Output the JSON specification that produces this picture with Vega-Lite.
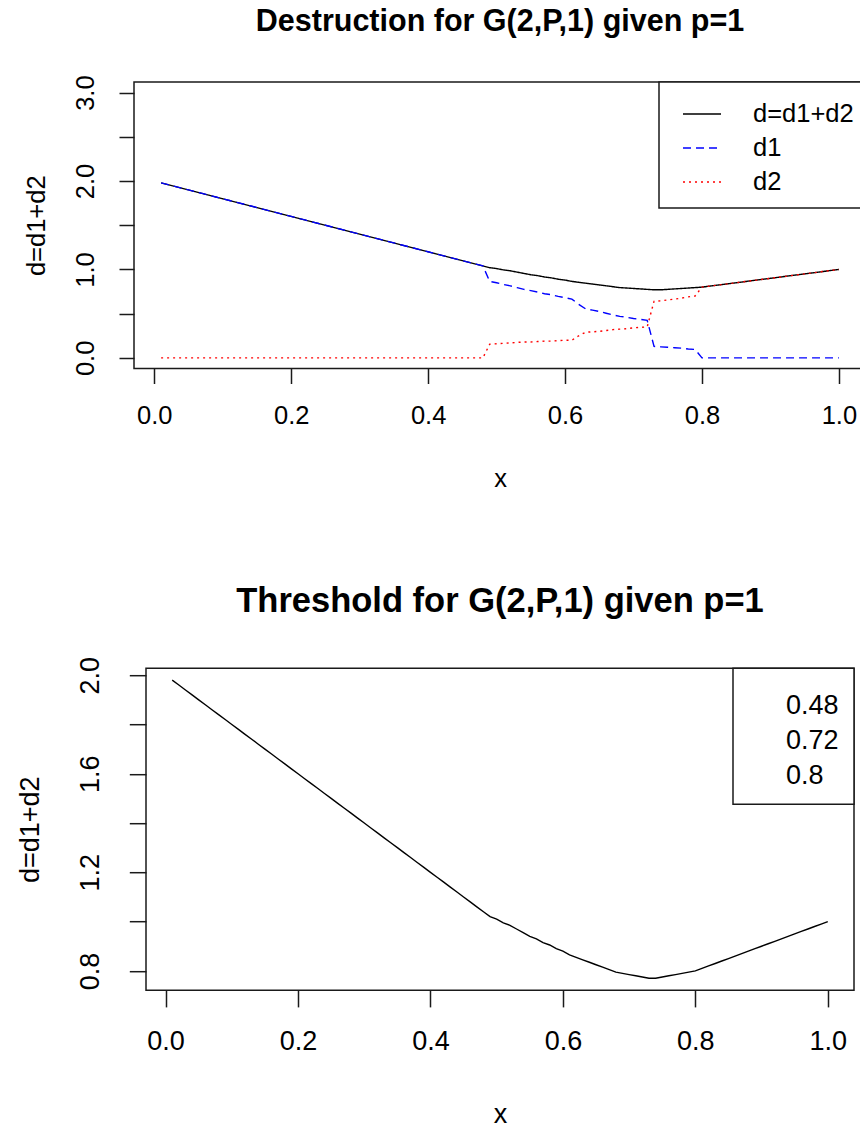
{
  "$schema": "https://vega.github.io/schema/vega-lite/v6.json",
  "padding": {"left": 15, "top": 6, "right": 0, "bottom": 0},
  "background": "white",
  "config": {
    "font": "Liberation Sans",
    "view": {"stroke": "#1a1a1a", "strokeWidth": 1.5},
    "axis": {"grid": false, "domain": false, "tickColor": "#1a1a1a", "tickWidth": 1.5, "labelColor": "black", "titleColor": "black", "titleFontWeight": "normal", "labelOverlap": false, "labelFlush": false},
    "title": {"color": "black", "fontWeight": "bold", "anchor": "middle", "frame": "group", "baseline": "alphabetic"},
    "legend": {"strokeColor": "#1a1a1a", "fillColor": "white", "cornerRadius": 0, "labelColor": "black", "strokeWidth": 1.5}
  },
  "resolve": {"scale": {"color": "independent", "strokeDash": "independent", "x": "independent", "y": "independent"}, "legend": {"color": "independent", "strokeDash": "independent"}},
  "datasets": {
    "dest": [
      {"x":0.01,"s":"d=d1+d2","v":1.98},{"x":0.02,"s":"d=d1+d2","v":1.96},{"x":0.03,"s":"d=d1+d2","v":1.94},{"x":0.04,"s":"d=d1+d2","v":1.92},{"x":0.05,"s":"d=d1+d2","v":1.9},{"x":0.06,"s":"d=d1+d2","v":1.88},{"x":0.07,"s":"d=d1+d2","v":1.86},{"x":0.08,"s":"d=d1+d2","v":1.84},{"x":0.09,"s":"d=d1+d2","v":1.82},{"x":0.1,"s":"d=d1+d2","v":1.8},
      {"x":0.11,"s":"d=d1+d2","v":1.78},{"x":0.12,"s":"d=d1+d2","v":1.76},{"x":0.13,"s":"d=d1+d2","v":1.74},{"x":0.14,"s":"d=d1+d2","v":1.72},{"x":0.15,"s":"d=d1+d2","v":1.7},{"x":0.16,"s":"d=d1+d2","v":1.68},{"x":0.17,"s":"d=d1+d2","v":1.66},{"x":0.18,"s":"d=d1+d2","v":1.64},{"x":0.19,"s":"d=d1+d2","v":1.62},{"x":0.2,"s":"d=d1+d2","v":1.6},
      {"x":0.21,"s":"d=d1+d2","v":1.58},{"x":0.22,"s":"d=d1+d2","v":1.56},{"x":0.23,"s":"d=d1+d2","v":1.54},{"x":0.24,"s":"d=d1+d2","v":1.52},{"x":0.25,"s":"d=d1+d2","v":1.5},{"x":0.26,"s":"d=d1+d2","v":1.48},{"x":0.27,"s":"d=d1+d2","v":1.46},{"x":0.28,"s":"d=d1+d2","v":1.44},{"x":0.29,"s":"d=d1+d2","v":1.42},{"x":0.3,"s":"d=d1+d2","v":1.4},
      {"x":0.31,"s":"d=d1+d2","v":1.38},{"x":0.32,"s":"d=d1+d2","v":1.36},{"x":0.33,"s":"d=d1+d2","v":1.34},{"x":0.34,"s":"d=d1+d2","v":1.32},{"x":0.35,"s":"d=d1+d2","v":1.3},{"x":0.36,"s":"d=d1+d2","v":1.28},{"x":0.37,"s":"d=d1+d2","v":1.26},{"x":0.38,"s":"d=d1+d2","v":1.24},{"x":0.39,"s":"d=d1+d2","v":1.22},{"x":0.4,"s":"d=d1+d2","v":1.2},
      {"x":0.41,"s":"d=d1+d2","v":1.18},{"x":0.42,"s":"d=d1+d2","v":1.16},{"x":0.43,"s":"d=d1+d2","v":1.14},{"x":0.44,"s":"d=d1+d2","v":1.12},{"x":0.45,"s":"d=d1+d2","v":1.1},{"x":0.46,"s":"d=d1+d2","v":1.08},{"x":0.47,"s":"d=d1+d2","v":1.06},{"x":0.48,"s":"d=d1+d2","v":1.04},{"x":0.49,"s":"d=d1+d2","v":1.02},{"x":0.5,"s":"d=d1+d2","v":1.01},
      {"x":0.51,"s":"d=d1+d2","v":0.995},{"x":0.52,"s":"d=d1+d2","v":0.985},{"x":0.53,"s":"d=d1+d2","v":0.97},{"x":0.54,"s":"d=d1+d2","v":0.955},{"x":0.55,"s":"d=d1+d2","v":0.94},{"x":0.56,"s":"d=d1+d2","v":0.93},{"x":0.57,"s":"d=d1+d2","v":0.915},{"x":0.58,"s":"d=d1+d2","v":0.905},{"x":0.59,"s":"d=d1+d2","v":0.89},{"x":0.6,"s":"d=d1+d2","v":0.88},
      {"x":0.61,"s":"d=d1+d2","v":0.865},{"x":0.62,"s":"d=d1+d2","v":0.855},{"x":0.63,"s":"d=d1+d2","v":0.845},{"x":0.64,"s":"d=d1+d2","v":0.835},{"x":0.65,"s":"d=d1+d2","v":0.825},{"x":0.66,"s":"d=d1+d2","v":0.815},{"x":0.67,"s":"d=d1+d2","v":0.805},{"x":0.68,"s":"d=d1+d2","v":0.795},{"x":0.69,"s":"d=d1+d2","v":0.79},{"x":0.7,"s":"d=d1+d2","v":0.785},
      {"x":0.71,"s":"d=d1+d2","v":0.78},{"x":0.72,"s":"d=d1+d2","v":0.775},{"x":0.73,"s":"d=d1+d2","v":0.77},{"x":0.74,"s":"d=d1+d2","v":0.77},{"x":0.75,"s":"d=d1+d2","v":0.775},{"x":0.76,"s":"d=d1+d2","v":0.78},{"x":0.77,"s":"d=d1+d2","v":0.785},{"x":0.78,"s":"d=d1+d2","v":0.79},{"x":0.79,"s":"d=d1+d2","v":0.795},{"x":0.8,"s":"d=d1+d2","v":0.8},
      {"x":0.81,"s":"d=d1+d2","v":0.81},{"x":0.82,"s":"d=d1+d2","v":0.82},{"x":0.83,"s":"d=d1+d2","v":0.83},{"x":0.84,"s":"d=d1+d2","v":0.84},{"x":0.85,"s":"d=d1+d2","v":0.85},{"x":0.86,"s":"d=d1+d2","v":0.86},{"x":0.87,"s":"d=d1+d2","v":0.87},{"x":0.88,"s":"d=d1+d2","v":0.88},{"x":0.89,"s":"d=d1+d2","v":0.89},{"x":0.9,"s":"d=d1+d2","v":0.9},
      {"x":0.91,"s":"d=d1+d2","v":0.91},{"x":0.92,"s":"d=d1+d2","v":0.92},{"x":0.93,"s":"d=d1+d2","v":0.93},{"x":0.94,"s":"d=d1+d2","v":0.94},{"x":0.95,"s":"d=d1+d2","v":0.95},{"x":0.96,"s":"d=d1+d2","v":0.96},{"x":0.97,"s":"d=d1+d2","v":0.97},{"x":0.98,"s":"d=d1+d2","v":0.98},{"x":0.99,"s":"d=d1+d2","v":0.99},{"x":1.0,"s":"d=d1+d2","v":1.0},

      {"x":0.01,"s":"d1","v":1.98},{"x":0.02,"s":"d1","v":1.96},{"x":0.03,"s":"d1","v":1.94},{"x":0.04,"s":"d1","v":1.92},{"x":0.05,"s":"d1","v":1.9},{"x":0.06,"s":"d1","v":1.88},{"x":0.07,"s":"d1","v":1.86},{"x":0.08,"s":"d1","v":1.84},{"x":0.09,"s":"d1","v":1.82},{"x":0.1,"s":"d1","v":1.8},
      {"x":0.11,"s":"d1","v":1.78},{"x":0.12,"s":"d1","v":1.76},{"x":0.13,"s":"d1","v":1.74},{"x":0.14,"s":"d1","v":1.72},{"x":0.15,"s":"d1","v":1.7},{"x":0.16,"s":"d1","v":1.68},{"x":0.17,"s":"d1","v":1.66},{"x":0.18,"s":"d1","v":1.64},{"x":0.19,"s":"d1","v":1.62},{"x":0.2,"s":"d1","v":1.6},
      {"x":0.21,"s":"d1","v":1.58},{"x":0.22,"s":"d1","v":1.56},{"x":0.23,"s":"d1","v":1.54},{"x":0.24,"s":"d1","v":1.52},{"x":0.25,"s":"d1","v":1.5},{"x":0.26,"s":"d1","v":1.48},{"x":0.27,"s":"d1","v":1.46},{"x":0.28,"s":"d1","v":1.44},{"x":0.29,"s":"d1","v":1.42},{"x":0.3,"s":"d1","v":1.4},
      {"x":0.31,"s":"d1","v":1.38},{"x":0.32,"s":"d1","v":1.36},{"x":0.33,"s":"d1","v":1.34},{"x":0.34,"s":"d1","v":1.32},{"x":0.35,"s":"d1","v":1.3},{"x":0.36,"s":"d1","v":1.28},{"x":0.37,"s":"d1","v":1.26},{"x":0.38,"s":"d1","v":1.24},{"x":0.39,"s":"d1","v":1.22},{"x":0.4,"s":"d1","v":1.2},
      {"x":0.41,"s":"d1","v":1.18},{"x":0.42,"s":"d1","v":1.16},{"x":0.43,"s":"d1","v":1.14},{"x":0.44,"s":"d1","v":1.12},{"x":0.45,"s":"d1","v":1.1},{"x":0.46,"s":"d1","v":1.08},{"x":0.47,"s":"d1","v":1.06},{"x":0.48,"s":"d1","v":1.04},{"x":0.49,"s":"d1","v":0.865},{"x":0.5,"s":"d1","v":0.85},
      {"x":0.51,"s":"d1","v":0.83},{"x":0.52,"s":"d1","v":0.815},{"x":0.53,"s":"d1","v":0.795},{"x":0.54,"s":"d1","v":0.775},{"x":0.55,"s":"d1","v":0.76},{"x":0.56,"s":"d1","v":0.745},{"x":0.57,"s":"d1","v":0.725},{"x":0.58,"s":"d1","v":0.715},{"x":0.59,"s":"d1","v":0.695},{"x":0.6,"s":"d1","v":0.68},
      {"x":0.61,"s":"d1","v":0.665},{"x":0.62,"s":"d1","v":0.605},{"x":0.63,"s":"d1","v":0.555},{"x":0.64,"s":"d1","v":0.54},{"x":0.65,"s":"d1","v":0.525},{"x":0.66,"s":"d1","v":0.505},{"x":0.67,"s":"d1","v":0.485},{"x":0.68,"s":"d1","v":0.47},{"x":0.69,"s":"d1","v":0.46},{"x":0.7,"s":"d1","v":0.445},
      {"x":0.71,"s":"d1","v":0.435},{"x":0.72,"s":"d1","v":0.425},{"x":0.73,"s":"d1","v":0.13},{"x":0.74,"s":"d1","v":0.125},{"x":0.75,"s":"d1","v":0.12},{"x":0.76,"s":"d1","v":0.115},{"x":0.77,"s":"d1","v":0.11},{"x":0.78,"s":"d1","v":0.1},{"x":0.79,"s":"d1","v":0.095},{"x":0.8,"s":"d1","v":0},
      {"x":0.81,"s":"d1","v":0},{"x":0.82,"s":"d1","v":0},{"x":0.83,"s":"d1","v":0},{"x":0.84,"s":"d1","v":0},{"x":0.85,"s":"d1","v":0},{"x":0.86,"s":"d1","v":0},{"x":0.87,"s":"d1","v":0},{"x":0.88,"s":"d1","v":0},{"x":0.89,"s":"d1","v":0},{"x":0.9,"s":"d1","v":0},
      {"x":0.91,"s":"d1","v":0},{"x":0.92,"s":"d1","v":0},{"x":0.93,"s":"d1","v":0},{"x":0.94,"s":"d1","v":0},{"x":0.95,"s":"d1","v":0},{"x":0.96,"s":"d1","v":0},{"x":0.97,"s":"d1","v":0},{"x":0.98,"s":"d1","v":0},{"x":0.99,"s":"d1","v":0},{"x":1.0,"s":"d1","v":0},

      {"x":0.01,"s":"d2","v":0},{"x":0.02,"s":"d2","v":0},{"x":0.03,"s":"d2","v":0},{"x":0.04,"s":"d2","v":0},{"x":0.05,"s":"d2","v":0},{"x":0.06,"s":"d2","v":0},{"x":0.07,"s":"d2","v":0},{"x":0.08,"s":"d2","v":0},{"x":0.09,"s":"d2","v":0},{"x":0.1,"s":"d2","v":0},
      {"x":0.11,"s":"d2","v":0},{"x":0.12,"s":"d2","v":0},{"x":0.13,"s":"d2","v":0},{"x":0.14,"s":"d2","v":0},{"x":0.15,"s":"d2","v":0},{"x":0.16,"s":"d2","v":0},{"x":0.17,"s":"d2","v":0},{"x":0.18,"s":"d2","v":0},{"x":0.19,"s":"d2","v":0},{"x":0.2,"s":"d2","v":0},
      {"x":0.21,"s":"d2","v":0},{"x":0.22,"s":"d2","v":0},{"x":0.23,"s":"d2","v":0},{"x":0.24,"s":"d2","v":0},{"x":0.25,"s":"d2","v":0},{"x":0.26,"s":"d2","v":0},{"x":0.27,"s":"d2","v":0},{"x":0.28,"s":"d2","v":0},{"x":0.29,"s":"d2","v":0},{"x":0.3,"s":"d2","v":0},
      {"x":0.31,"s":"d2","v":0},{"x":0.32,"s":"d2","v":0},{"x":0.33,"s":"d2","v":0},{"x":0.34,"s":"d2","v":0},{"x":0.35,"s":"d2","v":0},{"x":0.36,"s":"d2","v":0},{"x":0.37,"s":"d2","v":0},{"x":0.38,"s":"d2","v":0},{"x":0.39,"s":"d2","v":0},{"x":0.4,"s":"d2","v":0},
      {"x":0.41,"s":"d2","v":0},{"x":0.42,"s":"d2","v":0},{"x":0.43,"s":"d2","v":0},{"x":0.44,"s":"d2","v":0},{"x":0.45,"s":"d2","v":0},{"x":0.46,"s":"d2","v":0},{"x":0.47,"s":"d2","v":0},{"x":0.48,"s":"d2","v":0},{"x":0.49,"s":"d2","v":0.155},{"x":0.5,"s":"d2","v":0.16},
      {"x":0.51,"s":"d2","v":0.165},{"x":0.52,"s":"d2","v":0.17},{"x":0.53,"s":"d2","v":0.175},{"x":0.54,"s":"d2","v":0.18},{"x":0.55,"s":"d2","v":0.18},{"x":0.56,"s":"d2","v":0.185},{"x":0.57,"s":"d2","v":0.19},{"x":0.58,"s":"d2","v":0.19},{"x":0.59,"s":"d2","v":0.195},{"x":0.6,"s":"d2","v":0.2},
      {"x":0.61,"s":"d2","v":0.2},{"x":0.62,"s":"d2","v":0.25},{"x":0.63,"s":"d2","v":0.29},{"x":0.64,"s":"d2","v":0.295},{"x":0.65,"s":"d2","v":0.3},{"x":0.66,"s":"d2","v":0.31},{"x":0.67,"s":"d2","v":0.32},{"x":0.68,"s":"d2","v":0.325},{"x":0.69,"s":"d2","v":0.33},{"x":0.7,"s":"d2","v":0.34},
      {"x":0.71,"s":"d2","v":0.345},{"x":0.72,"s":"d2","v":0.35},{"x":0.73,"s":"d2","v":0.64},{"x":0.74,"s":"d2","v":0.645},{"x":0.75,"s":"d2","v":0.655},{"x":0.76,"s":"d2","v":0.665},{"x":0.77,"s":"d2","v":0.675},{"x":0.78,"s":"d2","v":0.69},{"x":0.79,"s":"d2","v":0.7},{"x":0.8,"s":"d2","v":0.8},
      {"x":0.81,"s":"d2","v":0.81},{"x":0.82,"s":"d2","v":0.82},{"x":0.83,"s":"d2","v":0.83},{"x":0.84,"s":"d2","v":0.84},{"x":0.85,"s":"d2","v":0.85},{"x":0.86,"s":"d2","v":0.86},{"x":0.87,"s":"d2","v":0.87},{"x":0.88,"s":"d2","v":0.88},{"x":0.89,"s":"d2","v":0.89},{"x":0.9,"s":"d2","v":0.9},
      {"x":0.91,"s":"d2","v":0.91},{"x":0.92,"s":"d2","v":0.92},{"x":0.93,"s":"d2","v":0.93},{"x":0.94,"s":"d2","v":0.94},{"x":0.95,"s":"d2","v":0.95},{"x":0.96,"s":"d2","v":0.96},{"x":0.97,"s":"d2","v":0.97},{"x":0.98,"s":"d2","v":0.98},{"x":0.99,"s":"d2","v":0.99},{"x":1.0,"s":"d2","v":1.0}
    ],
    "thr": [{"t": "0.48"}, {"t": "0.72"}, {"t": "0.8"}]
  },
  "spacing": 299.2,
  "center": true,
  "bounds": "flush",
  "vconcat": [
    {
      "width": 732,
      "height": 286.5,
      "title": {"text": "Destruction for G(2,P,1) given p=1", "fontSize": 30.5, "offset": 37.5},
      "data": {"name": "dest"},
      "mark": {"type": "line", "strokeWidth": 1.4},
      "encoding": {
        "x": {"field": "x", "type": "quantitative", "scale": {"domain": [-0.0296, 1.0396], "nice": false, "zero": false},
              "axis": {"title": "x", "values": [0, 0.2, 0.4, 0.6, 0.8, 1.0], "format": ".1f", "labelFontSize": 25.5, "titleFontSize": 25.5, "tickSize": 15, "labelPadding": 20, "titleY": 118, "titleBaseline": "alphabetic"}},
        "y": {"field": "v", "type": "quantitative", "scale": {"domain": [-0.12, 3.12], "nice": false, "zero": false},
              "axis": {"title": "d=d1+d2", "values": [0, 0.5, 1, 1.5, 2, 2.5, 3], "labelExpr": "datum.value % 1 == 0 ? format(datum.value, '.1f') : ''", "labelAngle": -90, "labelAlign": "center", "labelBaseline": "alphabetic", "labelFontSize": 25.5, "titleFontSize": 25.5, "tickSize": 15, "labelPadding": 26, "titleX": -90, "titleY": 143.25, "titleAngle": -90, "titleAlign": "center", "titleBaseline": "alphabetic"}},
        "color": {"field": "s", "type": "nominal", "scale": {"domain": ["d=d1+d2", "d1", "d2"], "range": ["#000000", "#0000ff", "#ff0000"]},
                  "legend": {"title": null, "orient": "top-right", "offset": 0, "padding": 12, "symbolOffset": 11, "symbolType": "stroke", "symbolSize": 1444, "symbolStrokeWidth": 1.4, "labelFontSize": 25.5, "labelOffset": 31, "rowPadding": 0, "labelLimit": 300}},
        "strokeDash": {"field": "s", "type": "nominal", "scale": {"domain": ["d=d1+d2", "d1", "d2"], "range": [[1, 0], [8, 5], [2, 4]]},
                  "legend": {"title": null, "orient": "top-right", "offset": 0, "padding": 12, "symbolOffset": 11, "symbolType": "stroke", "symbolSize": 1444, "symbolStrokeWidth": 1.4, "labelFontSize": 25.5, "labelOffset": 31, "rowPadding": 0, "labelLimit": 300}}
      }
    },
    {
      "width": 708,
      "height": 322,
      "title": {"text": "Threshold for G(2,P,1) given p=1", "fontSize": 34.5, "offset": 37},
      "layer": [
        {
          "data": {"name": "dest"},
          "transform": [{"filter": "datum.s == 'd=d1+d2'"}],
          "mark": {"type": "line", "color": "black", "strokeWidth": 1.4},
          "encoding": {
            "x": {"field": "x", "type": "quantitative", "scale": {"domain": [-0.0296, 1.0396], "nice": false, "zero": false},
                  "axis": {"title": "x", "values": [0, 0.2, 0.4, 0.6, 0.8, 1.0], "format": ".1f", "labelFontSize": 27, "titleFontSize": 27, "tickSize": 16.7, "labelPadding": 22, "titleY": 132, "titleBaseline": "alphabetic"}},
            "y": {"field": "v", "type": "quantitative", "scale": {"domain": [0.7216, 2.0284], "nice": false, "zero": false},
                  "axis": {"title": "d=d1+d2", "values": [0.8, 1.0, 1.2, 1.4, 1.6, 1.8, 2.0], "labelExpr": "indexof([0.8, 1.2, 1.6, 2], datum.value) >= 0 ? format(datum.value, '.1f') : ''", "labelAngle": -90, "labelAlign": "center", "labelBaseline": "alphabetic", "labelFontSize": 27, "titleFontSize": 27, "tickSize": 16.7, "labelPadding": 31, "titleX": -108, "titleY": 161, "titleAngle": -90, "titleAlign": "center", "titleBaseline": "alphabetic"}}
          }
        },
        {
          "data": {"name": "thr"},
          "mark": {"type": "point", "opacity": 0},
          "encoding": {
            "color": {"field": "t", "type": "nominal", "scale": {"domain": ["0.48", "0.72", "0.8"], "range": ["black", "black", "black"]},
                      "legend": {"title": " ", "titleFontSize": 9, "titlePadding": 0, "orient": "top-right", "offset": 0, "padding": 15, "symbolOffset": 11, "symbolSize": 400, "symbolOpacity": 0, "symbolType": "circle", "labelFontSize": 27, "labelOffset": 0, "rowPadding": 7}}
          }
        }
      ]
    }
  ]
}
